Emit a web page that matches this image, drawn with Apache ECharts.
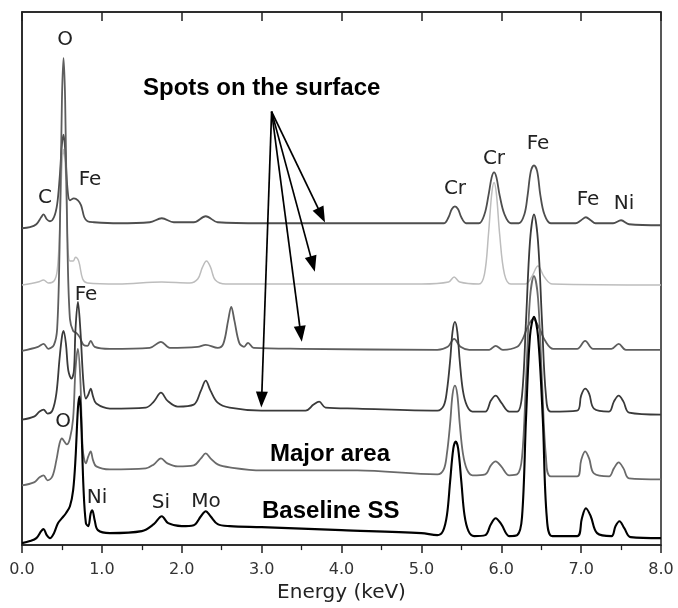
<!DOCTYPE html>
<html>
<head>
<meta charset="utf-8">
<script src="https://cdn.jsdelivr.net/npm/echarts@6/dist/echarts.min.js"></script>
<style>
html, body { margin: 0; padding: 0; background: #fff; }
#chart { width: 678px; height: 608px; }
</style>
</head>
<body>
<div id="chart"></div>
<script>
// EDS spectra, [energy keV, intensity a.u.] - traces are stacked as in the figure
var spotCr = [[0,318],[0.1,319],[0.18,322],[0.24,329],[0.27,332],[0.31,327],[0.35,325],[0.4,329],[0.44,342],[0.47,367],
  [0.5,402],[0.52,412],[0.54,397],[0.57,357],[0.6,346],[0.65,348],[0.7,346],[0.74,341],[0.78,329],[0.82,325],[0.9,324],
  [1.2,323],[1.6,324],[1.75,328],[1.9,324],[2.15,324],[2.3,330],[2.45,324],[3,323],[4,323],[5.28,323],[5.34,329],
  [5.38,337],[5.42,340],[5.46,337],[5.5,329],[5.56,323],[5.72,323],[5.79,332],[5.84,351],[5.88,369],[5.91,374],
  [5.94,369],[5.98,351],[6.04,332],[6.12,323],[6.22,323],[6.29,332],[6.33,351],[6.37,375],[6.41,381],[6.45,375],
  [6.49,351],[6.54,332],[6.62,323],[6.93,323],[7,326],[7.06,329],[7.12,326],[7.18,323],[7.4,323],[7.5,326],[7.6,322],[8,321]];

var spotLight = [[0,261],[0.2,264],[0.27,266],[0.33,263],[0.4,265],[0.44,275],[0.47,312],[0.5,382],[0.52,397],[0.545,377],
  [0.57,307],[0.6,285],[0.64,285],[0.67,289],[0.71,285],[0.76,267],[0.82,263],[1.2,262],[1.75,264],[2.1,263],[2.2,267],
  [2.26,279],[2.31,285],[2.36,279],[2.42,266],[2.55,262],[5,262],[5.34,264],[5.41,269],[5.48,264],[5.72,262],[5.79,272],
  [5.84,312],[5.88,352],[5.91,364],[5.94,352],[5.98,312],[6.04,272],[6.12,262],[6.3,262],[6.38,269],[6.46,280],
  [6.54,269],[6.64,262],[8,261]];

var spotO = [[0,195],[0.2,199],[0.27,202],[0.33,197],[0.4,201],[0.44,217],[0.47,297],[0.5,447],[0.52,489],[0.54,447],
  [0.57,297],[0.6,227],[0.64,215],[0.68,213],[0.72,209],[0.77,201],[0.82,200],[0.86,205],[0.91,199],[1.1,197],[1.6,198],
  [1.74,204],[1.85,198],[2.2,199],[2.3,201],[2.45,198],[2.52,202],[2.58,225],[2.62,239],[2.66,225],[2.72,203],[2.78,199],
  [2.83,203],[2.9,198],[3.5,197],[5.2,196],[5.33,199],[5.41,207],[5.49,199],[5.6,196],[5.85,196],[5.93,200],[6.02,196],
  [6.2,199],[6.27,207],[6.32,217],[6.4,227],[6.48,217],[6.55,205],[6.65,197],[6.95,197],[7.05,205],[7.15,197],
  [7.38,197],[7.47,202],[7.56,196],[8,196]];

var spotDark = [[0,126],[0.15,129],[0.22,134],[0.27,136],[0.32,132],[0.38,135],[0.43,152],[0.47,187],[0.5,209],[0.52,215],
  [0.55,202],[0.58,175],[0.62,167],[0.65,175],[0.67,217],[0.7,244],[0.73,217],[0.77,162],[0.8,147],[0.83,151],[0.86,157],
  [0.89,149],[0.93,142],[1.1,137],[1.55,138],[1.65,144],[1.74,153],[1.82,145],[1.95,139],[2.15,141],[2.24,155],[2.3,165],
  [2.36,155],[2.45,143],[2.6,138],[3,135],[3.55,135],[3.65,141],[3.72,144],[3.8,138],[4.2,137],[5.2,135],[5.28,140],
  [5.32,155],[5.36,185],[5.39,214],[5.42,224],[5.45,214],[5.48,185],[5.52,155],[5.57,140],[5.64,134],[5.8,134],[5.87,145],
  [5.93,150],[6,143],[6.1,134],[6.2,134],[6.26,150],[6.31,225],[6.36,305],[6.41,332],[6.46,305],[6.51,225],[6.56,150],
  [6.62,134],[6.95,135],[7,150],[7.05,157],[7.1,152],[7.16,137],[7.35,134],[7.41,144],[7.47,150],[7.53,144],[7.6,133],[8,131]];

var majorArea = [[0,60],[0.15,63],[0.22,68],[0.27,70],[0.32,65],[0.38,69],[0.43,85],[0.47,102],[0.5,107],[0.53,104],
  [0.56,101],[0.6,107],[0.64,127],[0.67,177],[0.7,197],[0.73,167],[0.76,97],[0.8,82],[0.83,89],[0.86,94],[0.89,85],
  [0.93,79],[1.1,76],[1.55,77],[1.65,81],[1.74,87],[1.82,82],[1.95,79],[2.15,80],[2.24,87],[2.3,92],[2.36,87],[2.45,81],
  [2.6,78],[3,75],[4.2,75],[5.2,71],[5.28,76],[5.32,92],[5.36,122],[5.39,151],[5.42,160],[5.45,151],[5.48,122],[5.52,92],
  [5.57,76],[5.64,70],[5.8,71],[5.87,80],[5.93,84],[6,79],[6.1,70],[6.2,71],[6.26,88],[6.31,165],[6.36,248],[6.41,270],
  [6.46,248],[6.51,165],[6.56,88],[6.62,69],[6.95,69],[7,85],[7.05,94],[7.1,87],[7.16,72],[7.35,69],[7.41,77],[7.47,83],
  [7.53,77],[7.6,67],[8,66]];

var baselineSS = [[0,2],[0.1,4],[0.18,7],[0.24,14],[0.27,16],[0.31,10],[0.35,7],[0.4,12],[0.45,22],[0.5,27],[0.55,32],
  [0.6,39],[0.64,55],[0.67,87],[0.7,137],[0.72,149],[0.74,127],[0.77,57],[0.8,22],[0.83,19],[0.86,32],[0.88,35],[0.91,25],
  [0.95,15],[1.1,12],[1.5,14],[1.65,21],[1.75,29],[1.83,22],[2,19],[2.15,20],[2.24,29],[2.3,34],[2.36,29],[2.45,21],
  [2.6,19],[3,18],[4,15],[5,12],[5.2,10],[5.27,14],[5.32,30],[5.36,64],[5.4,97],[5.43,104],[5.46,97],[5.5,64],[5.54,30],
  [5.59,14],[5.66,9],[5.8,10],[5.87,21],[5.93,27],[6,21],[6.1,9],[6.2,10],[6.26,28],[6.31,127],[6.36,210],[6.41,229],
  [6.46,210],[6.52,127],[6.57,28],[6.64,9],[6.95,9],[7.01,27],[7.06,37],[7.12,29],[7.2,12],[7.38,9],[7.43,19],[7.48,24],
  [7.54,17],[7.62,8],[8,7]];

var tickLabels = ['0.0', '1.0', '2.0', '3.0', '4.0', '5.0', '6.0', '7.0', '8.0'];

// arrows from the "Spots on the surface" note to the spot spectra
var arrowFrom = [3.125, 435];
var arrowTips = [[3.75, 331], [3.64, 282], [3.49, 212], [3.0, 146]];

var chart = echarts.init(document.getElementById('chart'));

var labelFont = '20px "DejaVu Sans"';
function elemLabel(txt, x, y) {
    return {
        type: 'text', x: x, y: y, silent: true,
        style: { text: txt, font: labelFont, fill: '#222', textAlign: 'center', textVerticalAlign: 'middle', align: 'center', verticalAlign: 'middle' }
    };
}
function boldLabel(txt, x, y) {
    return {
        type: 'text', x: x, y: y, silent: true,
        style: { text: txt, font: 'bold 24px "Liberation Sans"', fill: '#000', textAlign: 'left', textVerticalAlign: 'middle', align: 'left', verticalAlign: 'middle' }
    };
}

function spectrum(data, color, width, z) {
    return {
        type: 'line', data: data, showSymbol: false, smooth: 0.35, silent: true, z: z,
        lineStyle: { color: color, width: width }
    };
}

var series = [
    spectrum(spotLight, '#bdbdbd', 1.5, 2),
    spectrum(spotCr, '#4e4e4e', 1.8, 3),
    spectrum(spotO, '#5e5e5e', 1.8, 4),
    spectrum(majorArea, '#6a6a6a', 1.8, 5),
    spectrum(spotDark, '#3a3a3a', 1.8, 6),
    spectrum(baselineSS, '#000', 2.1, 7)
];
series[5].markLine = {
    silent: true,
    symbol: ['none', 'triangle'],
    symbolSize: [12, 16],
    lineStyle: { color: '#000', width: 1.7, type: 'solid' },
    label: { show: false },
    data: arrowTips.map(function (t) { return [{ coord: arrowFrom }, { coord: t }]; })
};

chart.setOption({
    animation: false,
    grid: { left: 22, right: 17, top: 12, bottom: 61, show: true, borderColor: '#222', borderWidth: 1.5 },
    xAxis: [{
        type: 'value', min: 0, max: 8, interval: 1, position: 'bottom',
        axisLine: { show: true, lineStyle: { color: '#222', width: 1.5 } },
        axisTick: { show: true, inside: false, length: 8, lineStyle: { color: '#222', width: 1.5 } },
        minorTick: { show: true, splitNumber: 2, length: 5, lineStyle: { color: '#222', width: 1.3 } },
        axisLabel: {
            margin: 17, fontSize: 16, fontFamily: 'DejaVu Sans', color: '#333',
            formatter: function (v) { return tickLabels[Math.round(v)]; }
        },
        splitLine: { show: false },
        name: 'Energy (keV)', nameLocation: 'middle', nameGap: 33,
        nameTextStyle: { fontSize: 20, fontFamily: 'DejaVu Sans', color: '#222' }
    }, {
        type: 'value', min: 0, max: 8, interval: 1, position: 'top',
        axisLine: { show: true, lineStyle: { color: '#222', width: 1.5 } },
        axisTick: { show: true, inside: true, length: 9, lineStyle: { color: '#222', width: 1.5 } },
        axisLabel: { show: false },
        splitLine: { show: false }
    }],
    yAxis: {
        type: 'value', min: 0, max: 535,
        axisLine: { show: true, lineStyle: { color: '#222', width: 1.5 } },
        axisTick: { show: false }, axisLabel: { show: false }, splitLine: { show: false }
    },
    series: series,
    graphic: [
        boldLabel('Spots on the surface', 143, 88),
        boldLabel('Major area', 270, 454),
        boldLabel('Baseline SS', 262, 511),
        elemLabel('O', 65, 40),
        elemLabel('C', 45, 198),
        elemLabel('Fe', 90, 180),
        elemLabel('Fe', 86, 295),
        elemLabel('O', 63, 422),
        elemLabel('Ni', 97, 498),
        elemLabel('Si', 161, 503),
        elemLabel('Mo', 206, 502),
        elemLabel('Cr', 455, 189),
        elemLabel('Cr', 494, 159),
        elemLabel('Fe', 538, 144),
        elemLabel('Fe', 588, 200),
        elemLabel('Ni', 624, 204)
    ]
});
</script>
</body>
</html>
